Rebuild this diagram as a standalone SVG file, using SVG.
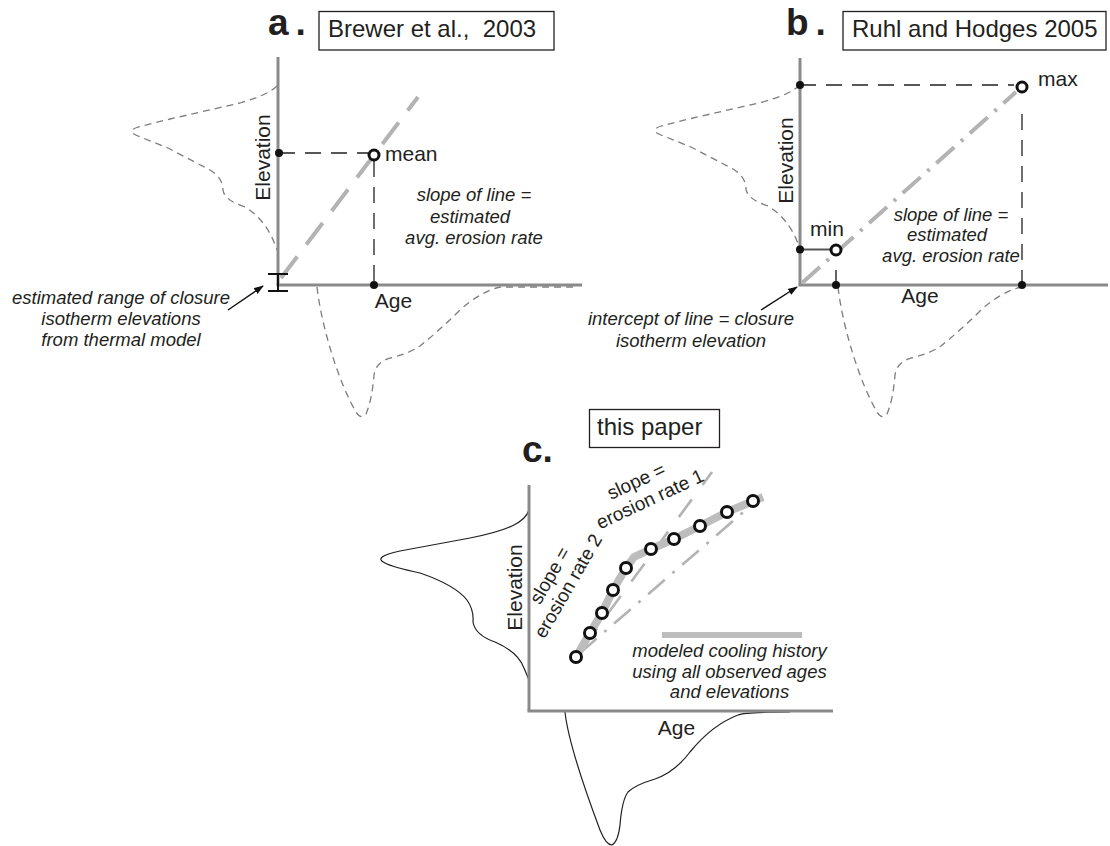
<svg xmlns="http://www.w3.org/2000/svg" width="1110" height="846" viewBox="0 0 1110 846">
<defs>
<style>
.axis{stroke:#8a8a8a;stroke-width:3;fill:none}
.dist{stroke:#7d7d7d;stroke-width:1.3;fill:none;stroke-dasharray:7 5}
.curve{stroke:#231f20;stroke-width:1.2;fill:none}
.guide{stroke:#231f20;stroke-width:1.3;fill:none;stroke-dasharray:16 10}
.trend{stroke:#b3b3b3;stroke-width:4;fill:none;stroke-dasharray:27 15}
.dashdot{stroke:#b3b3b3;stroke-width:4;fill:none;stroke-dasharray:24 9 3 9}
.trendc{stroke:#b3b3b3;stroke-width:2.6;fill:none;stroke-dasharray:22 18}
.dashdotc{stroke:#b3b3b3;stroke-width:2.6;fill:none;stroke-dasharray:22 10 3 10}
.model{stroke:#bdbdbd;stroke-width:8;fill:none;stroke-linejoin:round}
.pt{fill:#fff;stroke:#111;stroke-width:3}
.dot{fill:#111}
.box{fill:none;stroke:#231f20;stroke-width:1.3}
.t{font-family:"Liberation Sans",Arial,sans-serif;fill:#231f20}
.big{font-size:37px;font-weight:bold}
.ref{font-size:24px}
.ax{font-size:21px}
.it{font-size:18.5px;font-style:italic}
.rt{font-size:19px}
.conn{stroke:#111;stroke-width:1.4;fill:none}
</style>
<marker id="arrow" viewBox="0 0 10 10" refX="9" refY="5" markerWidth="10" markerHeight="10" markerUnits="userSpaceOnUse" orient="auto">
<path d="M0,1.5 L10,5 L0,8.5 z" fill="#111"/>
</marker>
</defs>
<rect width="1110" height="846" fill="#fff"/>

<g id="panel-a">
<text class="t big" x="268" y="35">a<tspan dx="7">.</tspan></text>
<rect class="box" x="319" y="11.5" width="235" height="38.5"/>
<text class="t ref" x="328" y="36.5" xml:space="preserve">Brewer et al.,  2003</text>
<path class="dist" d="M 277,86 Q 268,95 240,103 L 170,119 L 138,127 Q 126,131 138,136 L 168,148 L 210,170 Q 223,178 223,190 Q 224,200 245,207 Q 267,220 277,250"/>
<path class="dist" d="M 317,287 C 322,330 340,385 356,412 Q 361,420 366,414 Q 372,400 374,375 Q 376,362 390,358 Q 408,354 420,346 Q 440,330 460,310 Q 480,292 500,287 L 578,287"/>
<line class="axis" x1="278" y1="57" x2="278" y2="285"/>
<line class="axis" x1="276.5" y1="285" x2="582" y2="285"/>
<line class="trend" x1="281" y1="278" x2="418" y2="97"/>
<line class="guide" x1="279" y1="153" x2="368" y2="153"/>
<line class="guide" x1="374" y1="161" x2="374" y2="285"/>
<circle class="dot" cx="279" cy="153" r="4"/>
<circle class="dot" cx="374" cy="285" r="4"/>
<circle class="pt" cx="374" cy="155" r="5"/>
<text class="t ax" x="385" y="161">mean</text>
<text class="t ax" x="393.5" y="308" text-anchor="middle">Age</text>
<text class="t ax" transform="translate(270,157.5) rotate(-90)" text-anchor="middle">Elevation</text>
<text class="t it" text-anchor="middle"><tspan x="474" y="201">slope of line =</tspan><tspan x="470" y="222.5">estimated</tspan><tspan x="474" y="244">avg. erosion rate</tspan></text>
<g id="range-bar" stroke="#111" stroke-width="2">
<line x1="278" y1="274" x2="278" y2="291"/>
<line x1="268" y1="274" x2="288" y2="274"/>
<line x1="268" y1="291" x2="288" y2="291"/>
</g>
<text class="t it" text-anchor="middle"><tspan x="121" y="304">estimated range of closure</tspan><tspan x="121" y="325">isotherm elevations</tspan><tspan x="121" y="346">from thermal model</tspan></text>
</g>

<g id="panel-b">
<text class="t big" x="786" y="35">b<tspan dx="7">.</tspan></text>
<rect class="box" x="843" y="11.5" width="263" height="38.5"/>
<text class="t ref" x="852" y="36.5">Ruhl and Hodges 2005</text>
<path class="dist" d="M 800,85 Q 791,94 763,102 L 693,118 L 661,126 Q 649,130 661,135 L 691,147 L 733,169 Q 746,177 746,189 Q 747,199 768,206 Q 790,219 800,249"/>
<path class="dist" d="M 838,287 C 843,330 861,385 877,412 Q 882,420 887,414 Q 893,400 895,375 Q 897,362 911,358 Q 929,354 941,346 Q 961,330 981,310 Q 1001,292 1021,287"/>
<line class="axis" x1="800" y1="58" x2="800" y2="285"/>
<line class="axis" x1="798.5" y1="285" x2="1108" y2="285"/>
<line class="dashdot" x1="802" y1="283" x2="1016" y2="92"/>
<line class="guide" x1="800" y1="85" x2="1014" y2="85"/>
<line class="guide" x1="1022" y1="114" x2="1022" y2="285"/>
<line stroke="#555" stroke-width="2" x1="800" y1="249.5" x2="831" y2="249.5"/>
<line stroke="#111" stroke-width="1.3" x1="836" y1="270" x2="836" y2="285"/>
<circle class="dot" cx="800" cy="85" r="4"/>
<circle class="dot" cx="800" cy="249.5" r="4"/>
<circle class="dot" cx="836" cy="285" r="4"/>
<circle class="dot" cx="1022" cy="285" r="4"/>
<circle class="pt" cx="836" cy="250" r="5"/>
<circle class="pt" cx="1022" cy="87" r="5"/>
<text class="t ax" x="1038" y="86">max</text>
<text class="t ax" x="827" y="236" text-anchor="middle">min</text>
<text class="t ax" x="920" y="303" text-anchor="middle">Age</text>
<text class="t ax" transform="translate(793,160.5) rotate(-90)" text-anchor="middle">Elevation</text>
<text class="t it" text-anchor="middle"><tspan x="951" y="220.5">slope of line =</tspan><tspan x="947" y="241">estimated</tspan><tspan x="951" y="262">avg. erosion rate</tspan></text>
<text class="t it" text-anchor="middle"><tspan x="691" y="325">intercept of line = closure</tspan><tspan x="691" y="347">isotherm elevation</tspan></text>
</g>

<g id="panel-c">
<text class="t big" x="522" y="462" font-size="36">c.</text>
<rect class="box" x="589.5" y="409.5" width="130" height="38"/>
<text class="t ref" x="597" y="435">this paper</text>
<path class="curve" d="M 529,510 C 525,522 510,530 470,538 L 400,551 Q 372,557 385,563 Q 392,567 420,573 Q 455,585 467,600 Q 474,610 473,622 Q 475,635 495,642 Q 518,652 524,668 L 529,680"/>
<path class="curve" d="M 565,712 C 568,740 585,790 600,830 Q 606,845 612,845 Q 618,842 620,825 Q 622,800 628,792 Q 635,785 655,779 Q 675,772 690,752 Q 712,725 738,715 Q 745,712 790,712"/>
<line class="axis" x1="529" y1="485" x2="529" y2="711"/>
<line class="axis" x1="527.5" y1="711" x2="833" y2="711"/>
<line class="trendc" x1="584" y1="646" x2="712" y2="472"/>
<line class="dashdotc" x1="580" y1="653" x2="762" y2="496"/>
<polyline class="model" points="576,657 590,633 602,613 613,590 626,568 634,557 651,549 674,539 700,526 727,512 763,497"/>
<g id="samples">
<circle class="pt" cx="576" cy="657" r="5.5"/>
<circle class="pt" cx="590" cy="633" r="5.5"/>
<circle class="pt" cx="602" cy="613" r="5.5"/>
<circle class="pt" cx="613" cy="590" r="5.5"/>
<circle class="pt" cx="626" cy="568" r="5.5"/>
<circle class="pt" cx="651" cy="549" r="5.5"/>
<circle class="pt" cx="674" cy="539" r="5.5"/>
<circle class="pt" cx="700" cy="526" r="5.5"/>
<circle class="pt" cx="727" cy="512" r="5.5"/>
<circle class="pt" cx="753" cy="501" r="5.5"/>
</g>
<line stroke="#bdbdbd" stroke-width="6" x1="662" y1="635" x2="802" y2="635"/>
<text class="t it" text-anchor="middle"><tspan x="729.5" y="657">modeled cooling history</tspan><tspan x="729.5" y="677.5">using all observed ages</tspan><tspan x="729.5" y="698">and elevations</tspan></text>
<text class="t ax" x="676.5" y="735" text-anchor="middle">Age</text>
<text class="t ax" transform="translate(522,587.5) rotate(-90)" text-anchor="middle">Elevation</text>
<text class="t rt" transform="translate(650,499) rotate(-25)" text-anchor="middle"><tspan x="-5" y="-15.5">slope =</tspan><tspan x="0" y="6.5">erosion rate 1</tspan></text>
<text class="t rt" transform="translate(568,586) rotate(-60)" text-anchor="middle"><tspan x="0" y="-14.5">slope =</tspan><tspan x="0" y="6.5">erosion rate 2</tspan></text>
</g>

<g id="connectors">
<line class="conn" x1="228" y1="310" x2="263" y2="286" marker-end="url(#arrow)"/>
<line class="conn" x1="761" y1="310" x2="797" y2="287" marker-end="url(#arrow)"/>
</g>
</svg>
